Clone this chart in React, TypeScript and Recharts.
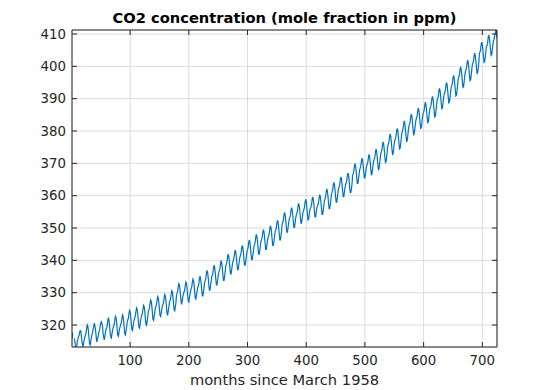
import React from 'react';
import { LineChart, Line, XAxis, YAxis, CartesianGrid } from 'recharts';

// Monthly CO2 (ppm) at Mauna Loa, starting March 1958 (one row per year)
const co2_1958 = [315.71, 317.45, 317.5, null, 315.86, 314.93, 313.2, null, 313.33, 314.67];
const co2_1959_1969 = [
  315.62, 316.38, 316.71, 317.72, 318.29, 318.15, 316.54, 314.8, 313.84, 313.26, 314.8, 315.58,
  316.43, 316.97, 317.58, 319.02, 320.03, 319.59, 318.18, 315.91, 314.16, 313.83, 315.0, 316.19,
  316.93, 317.7, 318.54, 319.48, 320.58, 319.77, 318.57, 316.79, 314.8, 315.38, 316.1, 317.01,
  317.94, 318.56, 319.68, 320.63, 321.01, 320.55, 319.58, 317.4, 316.26, 315.42, 316.69, 317.69,
  318.74, 319.08, 319.86, 321.39, 322.25, 321.47, 319.74, 317.77, 316.21, 315.99, 317.12, 318.31,
  319.1, 319.7, 320.3, 321.7, 322.7, 322.3, 320.9, 318.6, 316.8, 316.5, 317.7, 318.9,
  319.5, 320.1, 320.7, 322.1, 323.1, 322.7, 321.3, 319.0, 317.2, 316.9, 318.1, 319.3,
  320.9, 321.5, 322.1, 323.5, 324.5, 324.1, 322.7, 320.4, 318.6, 318.3, 319.5, 320.7,
  321.7, 322.3, 322.9, 324.3, 325.3, 324.9, 323.5, 321.2, 319.4, 319.1, 320.3, 321.5,
  322.5, 323.1, 323.7, 325.1, 326.1, 325.7, 324.3, 322.0, 320.2, 319.9, 321.1, 322.3,
  324.1, 324.7, 325.3, 326.7, 327.7, 327.3, 325.9, 323.6, 321.8, 321.5, 322.7, 323.9,
];
const co2_1970_1979 = [
  325.2, 325.8, 326.4, 327.8, 328.8, 328.4, 327.0, 324.7, 322.9, 322.6, 323.8, 325.0,
  325.8, 326.4, 327.0, 328.4, 329.4, 329.0, 327.6, 325.3, 323.5, 323.2, 324.4, 325.6,
  327.0, 327.6, 328.2, 329.6, 330.6, 330.2, 328.8, 326.5, 324.7, 324.4, 325.6, 326.8,
  329.2, 329.8, 330.4, 331.8, 332.8, 332.4, 331.0, 328.7, 326.9, 326.6, 327.8, 329.0,
  329.7, 330.3, 330.9, 332.3, 333.3, 332.9, 331.5, 329.2, 327.4, 327.1, 328.3, 329.5,
  330.6, 331.2, 331.8, 333.2, 334.2, 333.8, 332.4, 330.1, 328.3, 328.0, 329.2, 330.4,
  331.5, 332.0, 332.7, 334.2, 335.1, 334.5, 332.9, 330.8, 329.0, 329.0, 330.3, 331.7,
  333.3, 333.8, 334.5, 336.0, 336.9, 336.3, 334.7, 332.6, 330.8, 330.8, 332.1, 333.5,
  334.9, 335.4, 336.1, 337.6, 338.5, 337.9, 336.3, 334.2, 332.4, 332.4, 333.7, 335.1,
  336.3, 336.8, 337.5, 339.0, 339.9, 339.3, 337.7, 335.6, 333.8, 333.8, 335.1, 336.5,
];
const co2_1980_1989 = [
  338.3, 338.8, 339.5, 341.0, 341.9, 341.3, 339.7, 337.6, 335.8, 335.8, 337.1, 338.5,
  339.6, 340.1, 340.8, 342.3, 343.2, 342.6, 341.0, 338.9, 337.1, 337.1, 338.4, 339.8,
  341.0, 341.5, 342.2, 343.7, 344.6, 344.0, 342.4, 340.3, 338.5, 338.5, 339.8, 341.2,
  342.7, 343.2, 343.9, 345.4, 346.3, 345.7, 344.1, 342.0, 340.2, 340.2, 341.5, 342.9,
  344.4, 344.9, 345.6, 347.1, 348.0, 347.4, 345.8, 343.7, 341.9, 341.9, 343.2, 344.6,
  345.9, 346.4, 347.1, 348.6, 349.5, 348.9, 347.3, 345.2, 343.4, 343.4, 344.7, 346.1,
  347.1, 347.6, 348.3, 349.8, 350.7, 350.1, 348.5, 346.4, 344.6, 344.6, 345.9, 347.3,
  348.8, 349.3, 350.0, 351.5, 352.4, 351.8, 350.2, 348.1, 346.3, 346.3, 347.6, 349.0,
  351.2, 351.7, 352.4, 353.9, 354.8, 354.2, 352.6, 350.5, 348.7, 348.7, 350.0, 351.4,
  352.7, 353.2, 353.9, 355.4, 356.3, 355.7, 354.1, 352.0, 350.2, 350.2, 351.5, 352.9,
];
const co2_1990_1999 = [
  354.0, 354.5, 355.2, 356.7, 357.6, 357.0, 355.4, 353.3, 351.5, 351.5, 352.8, 354.2,
  355.2, 355.7, 356.4, 357.9, 358.9, 358.3, 356.6, 354.4, 352.5, 352.6, 354.0, 355.4,
  356.0, 356.5, 357.2, 358.7, 359.6, 359.0, 357.3, 355.2, 353.4, 353.4, 354.8, 356.2,
  356.7, 357.2, 357.9, 359.4, 360.3, 359.7, 358.1, 356.0, 354.2, 354.2, 355.5, 356.9,
  358.5, 359.0, 359.7, 361.2, 362.1, 361.5, 359.9, 357.8, 356.0, 356.0, 357.3, 358.7,
  360.5, 361.0, 361.7, 363.2, 364.1, 363.5, 361.9, 359.8, 358.0, 358.0, 359.3, 360.7,
  362.2, 362.7, 363.4, 364.9, 365.8, 365.2, 363.6, 361.5, 359.7, 359.7, 361.0, 362.4,
  363.4, 363.9, 364.6, 366.1, 367.0, 366.4, 364.8, 362.7, 360.9, 360.9, 362.2, 363.6,
  366.3, 366.8, 367.5, 369.0, 369.9, 369.3, 367.7, 365.6, 363.8, 363.8, 365.1, 366.5,
  368.0, 368.5, 369.2, 370.7, 371.6, 371.0, 369.4, 367.3, 365.5, 365.5, 366.8, 368.2,
];
const co2_2000_2009 = [
  369.2, 369.7, 370.4, 372.0, 372.8, 372.1, 370.3, 368.2, 366.5, 366.7, 368.2, 369.9,
  370.8, 371.3, 372.0, 373.6, 374.4, 373.7, 371.9, 369.8, 368.1, 368.3, 369.8, 371.5,
  373.0, 373.5, 374.2, 375.8, 376.6, 375.9, 374.1, 372.0, 370.3, 370.5, 372.0, 373.7,
  375.5, 376.0, 376.7, 378.3, 379.1, 378.4, 376.6, 374.5, 372.8, 373.0, 374.5, 376.2,
  377.2, 377.7, 378.4, 380.0, 380.8, 380.1, 378.3, 376.2, 374.5, 374.7, 376.2, 377.9,
  379.5, 380.0, 380.7, 382.3, 383.1, 382.4, 380.6, 378.5, 376.8, 377.0, 378.5, 380.2,
  381.6, 382.1, 382.8, 384.4, 385.2, 384.5, 382.7, 380.6, 378.9, 379.1, 380.6, 382.3,
  383.5, 384.0, 384.7, 386.3, 387.1, 386.4, 384.6, 382.5, 380.8, 381.0, 382.5, 384.2,
  385.3, 385.8, 386.5, 388.1, 388.9, 388.2, 386.4, 384.3, 382.6, 382.8, 384.3, 386.0,
  387.1, 387.6, 388.3, 389.9, 390.7, 390.0, 388.2, 386.1, 384.4, 384.6, 386.1, 387.8,
];
const co2_2010_2018 = [
  389.6, 390.1, 390.8, 392.4, 393.2, 392.5, 390.7, 388.6, 386.9, 387.1, 388.6, 390.3,
  391.4, 391.9, 392.6, 394.2, 395.0, 394.3, 392.5, 390.4, 388.7, 388.9, 390.4, 392.1,
  393.6, 394.1, 394.8, 396.4, 397.2, 396.5, 394.7, 392.6, 390.9, 391.1, 392.6, 394.3,
  396.2, 396.7, 397.4, 399.0, 399.8, 399.1, 397.3, 395.2, 393.5, 393.7, 395.2, 396.9,
  398.3, 398.8, 399.5, 401.1, 401.9, 401.2, 399.4, 397.3, 395.6, 395.8, 397.3, 399.0,
  400.5, 401.0, 401.7, 403.3, 404.1, 403.4, 401.6, 399.5, 397.8, 398.0, 399.5, 401.2,
  403.9, 404.4, 405.1, 406.7, 407.5, 406.8, 405.0, 402.9, 401.2, 401.4, 402.9, 404.6,
  406.13, 406.42, 407.18, 409.0, 409.65, 408.84, 407.07, 405.07, 403.38, 403.64, 405.14, 406.81,
  407.96, 408.32, 409.41, 410.24, 411.24, 410.79, 408.71,
];

const co2Values: (number | null)[] = [
  ...co2_1958,
  ...co2_1959_1969,
  ...co2_1970_1979,
  ...co2_1980_1989,
  ...co2_1990_1999,
  ...co2_2000_2009,
  ...co2_2010_2018,
];

const xTicks = [100, 200, 300, 400, 500, 600, 700];
const yTicks = [320, 330, 340, 350, 360, 370, 380, 390, 400, 410];

const data = co2Values.map((v, i) => ({ month: i + 1, co2: v }));

const FONT = '"DejaVu Sans", sans-serif';
const AXIS = '#262626';
const emptyTick = () => <g />;

export default function App() {
  return (
    <div style={{ position: 'absolute', left: 0, top: 0, width: 550, height: 390, background: '#fff', fontFamily: FONT }}>
      <div
        style={{
          position: 'absolute',
          left: 42,
          width: 485,
          top: 9,
          textAlign: 'center',
          fontSize: 14.67,
          fontWeight: 'bold',
          color: '#000',
          whiteSpace: 'nowrap',
        }}
      >
        CO2 concentration (mole fraction in ppm)
      </div>
      <LineChart
        width={550}
        height={390}
        data={data}
        margin={{ top: 25, right: 48, bottom: 13, left: 32 }}
      >
        <CartesianGrid xAxisId="b" yAxisId="l" stroke="#dcdcdc" strokeWidth={1} />
        <XAxis
          xAxisId="b"
          dataKey="month"
          type="number"
          domain={[1, 725]}
          allowDataOverflow
          ticks={xTicks}
          interval={0}
          height={30}
          stroke={AXIS}
          tickSize={-5}
          tickMargin={14}
          tick={{ fill: AXIS, fontSize: 13.33, fontFamily: FONT }}
          label={{ value: 'months since March 1958', position: 'bottom', offset: -2.5, fill: AXIS, fontSize: 14.67, fontFamily: FONT }}
        />
        <XAxis
          xAxisId="t"
          orientation="top"
          dataKey="month"
          type="number"
          domain={[1, 725]}
          allowDataOverflow
          ticks={xTicks}
          interval={0}
          height={5}
          stroke={AXIS}
          tickSize={-5}
          tick={emptyTick}
        />
        <YAxis
          yAxisId="l"
          type="number"
          domain={[313.2, 411.24]}
          allowDataOverflow
          ticks={yTicks}
          interval={0}
          width={40}
          stroke={AXIS}
          tickSize={-5}
          tickMargin={11}
          tick={{ fill: AXIS, fontSize: 13.33, fontFamily: FONT }}
        />
        <YAxis
          yAxisId="r"
          orientation="right"
          type="number"
          domain={[313.2, 411.24]}
          allowDataOverflow
          ticks={yTicks}
          interval={0}
          width={5}
          stroke={AXIS}
          tickSize={-5}
          tick={emptyTick}
        />
        <Line
          xAxisId="b"
          yAxisId="l"
          type="linear"
          dataKey="co2"
          stroke="#0072BD"
          strokeWidth={1.2}
          dot={false}
          isAnimationActive={false}
        />
      </LineChart>
    </div>
  );
}
